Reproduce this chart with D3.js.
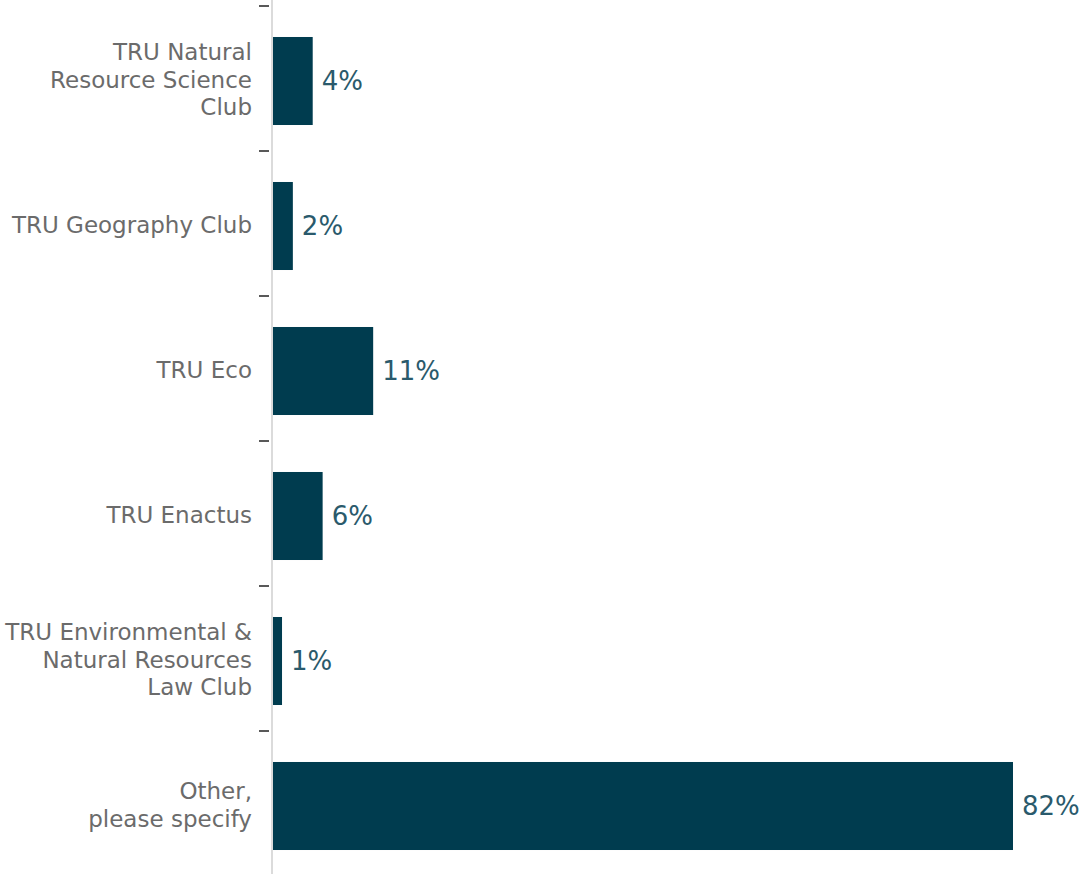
<!DOCTYPE html>
<html>
<head>
<meta charset="utf-8">
<script src="https://cdn.jsdelivr.net/npm/d3@7"></script>
<style>
  body { margin: 0; background: #fff; }
  svg { display: block; font-family: 'DejaVu Sans', sans-serif; }
</style>
</head>
<body>
<svg width="1084" height="874"></svg>
<script>
var categories = [
  ['TRU Natural', 'Resource Science', 'Club'],
  ['TRU Geography Club'],
  ['TRU Eco'],
  ['TRU Enactus'],
  ['TRU Environmental &', 'Natural Resources', 'Law Club'],
  ['Other,', 'please specify']
];
var shares = [0.044, 0.022, 0.111, 0.055, 0.010, 0.82];
var shareLabels = ['4%', '2%', '11%', '6%', '1%', '82%'];

var svg = d3.select('svg');

var data = categories.map(function(c, i) {
  return { key: 'c' + i, lines: c, value: shares[i], label: shareLabels[i] };
});

var x = d3.scaleLinear()
  .domain([0, 0.82])
  .range([273, 1013]);

var y = d3.scaleBand()
  .domain(data.map(function(d) { return d.key; }))
  .range([6, 876])
  .paddingInner(0.393)
  .paddingOuter(0.393 / 2);

var gap = (y.step() - y.bandwidth()) / 2;
var shift = 2.5; // bars sit a little below band centre

// axis line
svg.append('line')
  .attr('x1', 272).attr('x2', 272)
  .attr('y1', 0).attr('y2', 874)
  .attr('stroke', '#cfcfcf')
  .attr('stroke-width', 1.5);

// ticks at band boundaries
svg.selectAll('.tick')
  .data(data)
  .enter().append('line')
  .attr('class', 'tick')
  .attr('x1', 259).attr('x2', 269)
  .attr('y1', function(d) { return y(d.key) - gap; })
  .attr('y2', function(d) { return y(d.key) - gap; })
  .attr('stroke', '#222')
  .attr('stroke-width', 1.5);

svg.selectAll('.bar')
  .data(data)
  .enter().append('rect')
  .attr('class', 'bar')
  .attr('x', x(0))
  .attr('y', function(d) { return y(d.key) + shift; })
  .attr('width', function(d) { return x(d.value) - x(0); })
  .attr('height', y.bandwidth())
  .attr('fill', '#003c4f');

svg.selectAll('.val')
  .data(data)
  .enter().append('text')
  .attr('class', 'val')
  .attr('x', function(d) { return x(d.value) + 9; })
  .attr('y', function(d) { return y(d.key) + shift + y.bandwidth() / 2; })
  .attr('dy', '0.33em')
  .attr('fill', '#2a5a6c')
  .style('font-size', '26px')
  .text(function(d) { return d.label; });

var lineH = 27.5;
var cats = svg.selectAll('.cat')
  .data(data)
  .enter().append('text')
  .attr('class', 'cat')
  .attr('text-anchor', 'end')
  .attr('fill', '#6b6b6b')
  .style('font-size', '23px');

cats.each(function(d) {
  var t = d3.select(this);
  var cy = y(d.key) + shift + y.bandwidth() / 2;
  var top = cy - (d.lines.length - 1) * lineH / 2;
  d.lines.forEach(function(l, i) {
    t.append('tspan')
      .attr('x', 252)
      .attr('y', top + i * lineH)
      .attr('dy', '0.3em')
      .text(l);
  });
});
</script>
</body>
</html>
